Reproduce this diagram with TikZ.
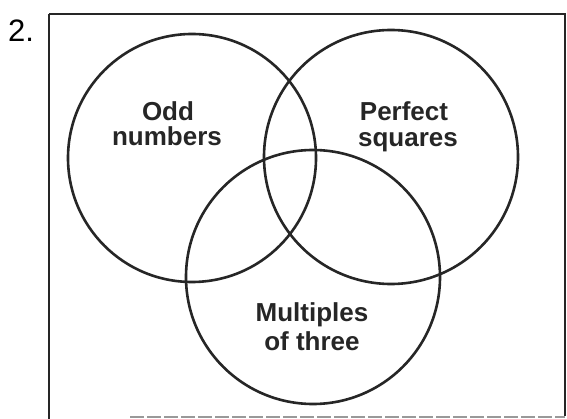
\documentclass[tikz,border=0pt]{standalone}
\usepackage{fontspec}
\setmainfont{Liberation Sans}
\begin{document}
\begin{tikzpicture}[x=1pt,y=-1pt,
  setcircle/.style={draw=black!85, line width=2.6pt},
  frame/.style={draw=black!85, line width=2.6pt},
  lbl/.style={font=\fontsize{26}{23}\selectfont\bfseries, inner sep=0pt, anchor=base, text=black!85},
  num/.style={font=\fontsize{31}{31}\selectfont, inner sep=0pt, anchor=base west}]
\useasboundingbox (0,0) rectangle (567,419);
\fill[white] (0,0) rectangle (567,419);
\draw[frame] (49,14) -- (565,14) -- (565,416);
\draw[frame] (49,14) -- (49,419);
\draw[draw=black!40, line width=1.5pt, dash pattern=on 14pt off 3pt] (130,417) -- (565,417);
\node[num] (n2) at (8,42) {2.};
\node[setcircle, circle, minimum size=248pt, inner sep=0pt] (odd) at (192,158) {};
\node[setcircle, circle, minimum size=254pt, inner sep=0pt] (sq) at (391,157) {};
\node[setcircle, circle, minimum size=254pt, inner sep=0pt] (mul) at (313,277) {};
\node[lbl] (t1) at (168,121) {Odd};
\node[lbl] (t2) at (167,146) {numbers};
\node[lbl] (t3) at (404,121) {Perfect};
\node[lbl] (t4) at (408,147) {squares};
\node[lbl] (t5) at (312,322) {Multiples};
\node[lbl] (t6) at (312,350) {of three};
\end{tikzpicture}
\end{document}
